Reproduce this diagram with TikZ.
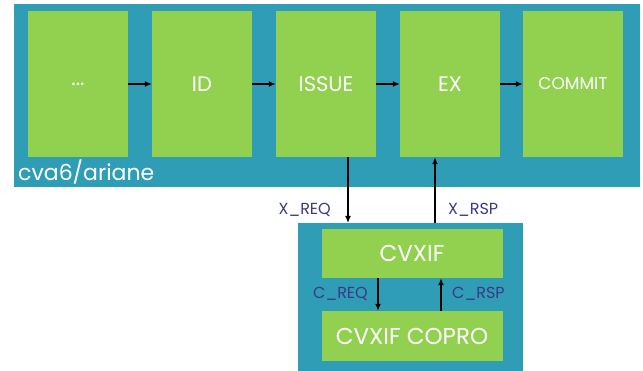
\documentclass[tikz,border=0pt]{standalone}
\usepackage{fontspec}
\setmainfont{Poppins}
\usetikzlibrary{arrows.meta}
\definecolor{tealbg}{HTML}{2F9DB5}
\definecolor{gbox}{HTML}{92D050}
\definecolor{lbl}{HTML}{3A3A8C}
\tikzset{
  stage/.style={fill=gbox, draw=none, text=white, font=\fontsize{21}{24}\selectfont},
  arr/.style={-{Latex[length=7pt,width=6pt]}, line width=1.3pt, black},
  sig/.style={text=lbl, font=\fontsize{16}{18}\selectfont},
}
\begin{document}
\begin{tikzpicture}[x=1pt,y=-1pt]
\useasboundingbox[fill=white] (0,0) rectangle (643,371);
\fill[tealbg] (14,4) rectangle (640,187);
\fill[tealbg] (298,223) rectangle (523,371);
\node[stage, minimum width=100pt, minimum height=146pt] (dots) at (78,84) {...};
\node[stage, minimum width=100pt, minimum height=146pt] (id) at (202,84) {ID};
\node[stage, minimum width=100pt, minimum height=146pt] (issue) at (326,84) {ISSUE};
\node[stage, minimum width=100pt, minimum height=146pt] (ex) at (450,84) {EX};
\node[stage, minimum width=100pt, minimum height=146pt, font=\fontsize{17}{19}\selectfont] (commit) at (573,84) {COMMIT};
\node[text=white, anchor=west, inner sep=0pt, font=\fontsize{22}{24}\selectfont] (core) at (18,172) {cva6/ariane};
\node[stage, minimum width=181pt, minimum height=49pt, font=\fontsize{23}{25}\selectfont] (cvxif) at (412,253.5) {CVXIF};
\node[stage, minimum width=181pt, minimum height=50pt, font=\fontsize{23}{25}\selectfont] (copro) at (412,336) {CVXIF COPRO};
\draw[arr] (dots.east) -- (id.west);
\draw[arr] (id.east) -- (issue.west);
\draw[arr] (issue.east) -- (ex.west);
\draw[arr] (ex.east) -- (commit.west);
\coordinate (xreqend) at (348,223);
\coordinate (xrspstart) at (435,223);
\draw[arr] (issue.south -| xreqend) -- (xreqend);
\draw[arr] (xrspstart) -- (ex.south -| xrspstart);
\coordinate (creqx) at (378,0);
\coordinate (crspx) at (441,0);
\draw[arr] (cvxif.south -| creqx) -- (copro.north -| creqx);
\draw[arr] (copro.north -| crspx) -- (cvxif.south -| crspx);
\node[sig, anchor=east, inner sep=0pt] (xreq) at (331,210) {X\_REQ};
\node[sig, anchor=west, inner sep=0pt] (xrsp) at (448,210) {X\_RSP};
\node[sig, anchor=east, inner sep=0pt] (creq) at (368,294) {C\_REQ};
\node[sig, anchor=west, inner sep=0pt] (crsp) at (452,294) {C\_RSP};
\end{tikzpicture}
\end{document}
